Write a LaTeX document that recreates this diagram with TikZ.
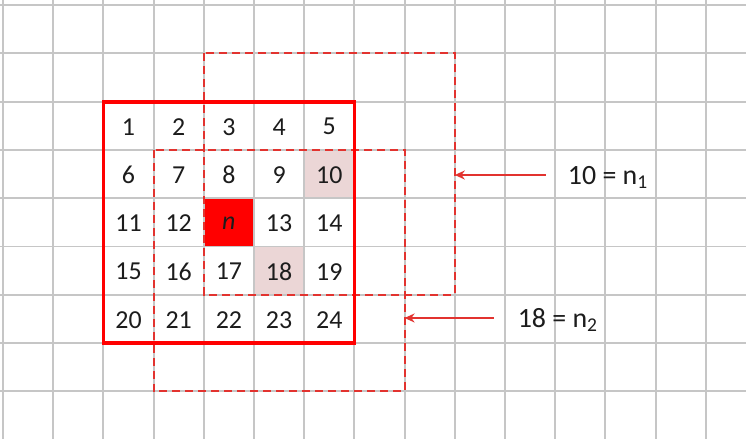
\documentclass[tikz,border=0pt]{standalone}
\usepackage{fontspec}
\setmainfont{Carlito}
\usetikzlibrary{positioning,arrows.meta}
\definecolor{grey300}{HTML}{C6C6C6}
\definecolor{red600}{HTML}{FF0000}
\definecolor{red500}{HTML}{E2332F}
\definecolor{rose100}{HTML}{EBD6D6}
\definecolor{ink900}{HTML}{1C1C1C}
\tikzset{
  every node/.style={font=\fontsize{26}{26}\selectfont, text=ink900},
  gridline/.style={draw=grey300, line width=1.9bp},
  cellnum/.style={inner sep=0pt, yshift=-1bp},
  window/.style={draw=red500, dash pattern=on 8bp off 5bp, line width=2.1bp},
  block/.style={draw=red600, line width=3.8bp},
  pointer/.style={
    -{Stealth[length=10bp,width=9bp]},
    draw=red500, line width=2.2bp
  },
  eqlabel/.style={font=\fontsize{28}{28}\selectfont, anchor=base west, inner sep=0pt},
}

\begin{document}
\begin{tikzpicture}[x=50.2bp, y=-48.3bp]
  \useasboundingbox (-0.0598,-0.1035) rectangle (14.801,8.965);
  \fill[white] (-0.0598,-0.1035) rectangle (14.801,8.965);
  % highlighted cells
  \fill[rose100] (6,3) rectangle (7,4);
  \fill[rose100] (5,5) rectangle (6,6);
  \fill[red600] (4,4) rectangle (5,5);
  % background grid
  \begin{scope}
    \clip (-0.0598,-0.1035) rectangle (14.801,8.965);
    \foreach \i in {0,...,15} \draw[gridline] (\i,-0.5) -- (\i,9.5);
    \foreach \j in {0,...,9} \draw[gridline] (-0.5,\j) -- (15.5,\j);
  \end{scope}
  % neighbourhood numbers
  \foreach \c/\r/\t in {2/2/1,3/2/2,4/2/3,5/2/4,6/2/5,
                        2/3/6,3/3/7,4/3/8,5/3/9,6/3/10,
                        2/4/11,3/4/12,5/4/13,6/4/14,
                        2/5/15,3/5/16,4/5/17,5/5/18,6/5/19,
                        2/6/20,3/6/21,4/6/22,5/6/23,6/6/24}
    \node[cellnum] (c\t) at (\c+0.5,\r+0.5) {\t};
  \node[cellnum] (cn) at (4.5,4.5) {\textit{n}};
  % windows
  \draw[window] (4,1) rectangle (9,6);
  \draw[window] (3,3) rectangle (8,8);
  \draw[block] (2,2) rectangle (7,7);
  % labels
  \node[eqlabel] (lab1) at (11.25,3.706) {10 = n\textsubscript{1}};
  \node[eqlabel] (lab2) at (10.25,6.67) {18 = n\textsubscript{2}};
  \coordinate (tip1) at (9,3.52);
  \coordinate (tip2) at (8,6.48);
  \draw[pointer, shorten <=22bp] (lab1.west |- tip1) -- (tip1);
  \draw[pointer, shorten <=24bp] (lab2.west |- tip2) -- (tip2);
\end{tikzpicture}
\end{document}
